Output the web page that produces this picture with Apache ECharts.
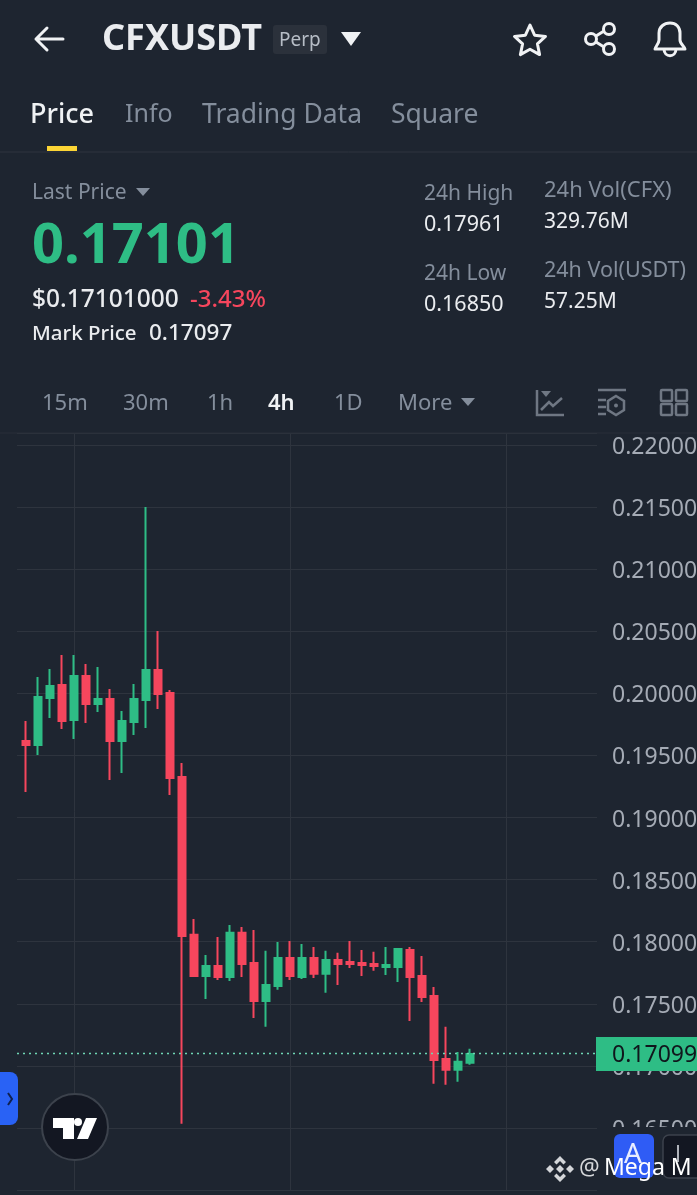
<!DOCTYPE html>
<html><head><meta charset="utf-8">
<style>html,body{margin:0;padding:0;background:#1e2530}#c{width:697px;height:1195px}</style>
<script src="https://cdn.jsdelivr.net/npm/echarts@6/dist/echarts.min.js"></script>
</head><body><div id="c"></div>
<script>
const opens=[.19617,.19584,.19963,.20068,.19786,.20140,.19915,.19955,.19617,.19770,.19947,.20188,.20003,.19327,.18055,.17724,.17805,.17716,.18071,.17829,.17523,.17644,.17869,.17716,.17869,.17741,.17853,.17837,.17829,.17821,.17797,.17797,.17934,.17724,.17563,.17056,.16968,.17024];
const closes=[.19584,.19971,.20059,.19778,.20140,.19915,.19955,.19617,.19778,.19955,.20188,.19995,.19319,.18046,.17724,.17805,.17716,.18071,.17821,.17523,.17652,.17869,.17724,.17869,.17741,.17853,.17821,.17821,.17813,.17805,.17813,.17942,.17716,.17555,.17048,.16968,.17032,.17096];
const lows=[.19206,.19504,.19802,.19713,.19633,.19762,.19850,.19303,.19359,.19665,.19721,.19874,.19182,.16533,.17716,.17539,.17692,.17684,.17716,.17386,.17314,.17612,.17692,.17700,.17708,.17588,.17652,.17789,.17724,.17765,.17732,.17676,.17362,.17515,.16855,.16847,.16871,.17008];
const highs=[.19778,.20132,.20196,.20309,.20309,.20237,.20212,.20035,.19858,.20076,.21501,.20502,.20027,.19440,.18183,.17893,.18038,.18135,.18119,.18095,.17926,.17998,.18006,.17982,.17958,.17926,.17910,.18006,.17934,.17918,.17958,.17942,.17958,.17885,.17636,.17314,.17112,.17137];
const lastPrice=0.17099;
const timeGridIndex=[4,22,40];
const xMin=-0.75,xMax=47.583;
const periods=['15m','30m','1h','4h','1D','More'];
const tabs=['Price','Info','Trading Data','Square'];

const BG='#1e2530',UP='#2ebd85',DOWN='#f6465d',GRID='#2e343e',GREY='#848e9c',LIGHT='#eaecef';
const FONT='"Noto Sans",sans-serif';
const t=(x,y,text,size,fill,weight,fam)=>({type:'text',z:50,silent:true,style:{x,y:y+3,text,fill,font:`${weight||400} ${size}px ${fam||FONT}`,textVerticalAlign:'middle',textAlign:'left'}});
let pid=0;
const p=(d,o)=>{const name='ico'+(pid++);echarts.graphic.registerShape(name,echarts.graphic.extendPath(d,{}));
  return {type:name,z:50,silent:true,style:Object.assign({fill:null,stroke:null},o)};};
const rect=(x,y,w,h,fill,r,extra)=>({type:'rect',z:40,silent:true,shape:{x,y,width:w,height:h,r:r||0},style:Object.assign({fill},extra||{})});
const line=(x1,y1,x2,y2,c,w)=>({type:'line',z:45,silent:true,shape:{x1,y1,x2,y2},style:{stroke:c,lineWidth:w||1}});
const tri=(x1,x2,y1,y2,c)=>({type:'polygon',z:50,silent:true,shape:{points:[[x1,y1],[x2,y1],[(x1+x2)/2,y2]]},style:{fill:c}});
const W='#f0f2f4',IC='#6f7783';
const tabX=[30,125,202,391],perX=[42,123,207,268,334,398];
const tabSize=[27,25,26.5,26.5];
const graphics=[
 p('M63 39H36M47 28L36 39L47 50',{stroke:W,lineWidth:3,lineCap:'round',lineJoin:'round'}),
 t(102,37,'CFXUSDT',36,LIGHT,700),
 rect(273,25,54,29,'#2b313b',3),
 t(279,38,'Perp',19,'#b7bdc6'),
 {type:'polygon',z:50,silent:true,shape:{points:[[341,32],[361,32],[351,46]]},style:{fill:W}},
 p('M530 25L534.6 35.2L545.5 36.4L537.4 43.8L539.6 54.6L530 49.2L520.4 54.6L522.6 43.8L514.5 36.4L525.4 35.2Z',{stroke:W,lineWidth:3,lineJoin:'round'}),
 p('M596 36L604 31M596 42L604 47',{stroke:W,lineWidth:3}),
 {type:'circle',z:50,silent:true,shape:{cx:591,cy:39,r:5.5},style:{fill:null,stroke:W,lineWidth:3}},
 {type:'circle',z:50,silent:true,shape:{cx:609,cy:29,r:5.5},style:{fill:null,stroke:W,lineWidth:3}},
 {type:'circle',z:50,silent:true,shape:{cx:609,cy:49,r:5.5},style:{fill:null,stroke:W,lineWidth:3}},
 p('M655 49C655 47 659 44 659 40V33C659 27 664 23 670 23C676 23 680 27 680 33V40C680 44 685 47 685 49Z M664 49C664 58 676 58 676 49',{stroke:W,lineWidth:3,lineJoin:'round'}),
 ...tabs.map((s,i)=>t(tabX[i],112,s,tabSize[i],i===0?W:GREY,i===0?500:400)),
 rect(47,146,30,5,'#fcd535'),
 line(0,152,697,152,GRID,1),
 t(32,190,'Last Price',21,GREY),
 tri(136,150,188,196,GREY),
 t(32,244,'0.17101',56,UP,700),
 t(32,297,'$0.17101000',24.5,LIGHT,500),
 t(190,297,'-3.43%',24,DOWN,500),
 t(32,331,'Mark Price',20.5,LIGHT,500),
 t(149,331,'0.17097',22.5,LIGHT,500),
 t(424,191,'24h High',21,GREY),
 t(424,222,'0.17961',21.5,LIGHT),
 t(424,271,'24h Low',21,GREY),
 t(424,302,'0.16850',21.5,LIGHT),
 t(544,188,'24h Vol(CFX)',22,GREY),
 t(544,219,'329.76M',21,LIGHT),
 t(544,268,'24h Vol(USDT)',21.5,GREY),
 t(544,299,'57.25M',21,LIGHT),
 ...periods.map((s,i)=>t(perX[i],401,s,22,i===3?W:GREY,i===3?600:400)),
 tri(461,475,398,406,GREY),
 p('M537 390V415H564M541 410L549 402L553 406L562 398',{stroke:IC,lineWidth:2.5}),
 tri(541,551,391,397,IC),
 p('M598 390H626M598 400H606M598 407H606M598 414H606M616 396L624 401V410L616 415L608 410V401Z',{stroke:IC,lineWidth:2.5}),
 {type:'circle',z:50,silent:true,shape:{cx:616,cy:405.5,r:2},style:{fill:IC}},
 rect(661,390,11,11,'none',1,{stroke:IC,lineWidth:2.5}),rect(676,390,11,11,'none',1,{stroke:IC,lineWidth:2.5}),
 rect(661,404,11,11,'none',1,{stroke:IC,lineWidth:2.5}),rect(676,404,11,11,'none',1,{stroke:IC,lineWidth:2.5}),
 line(0,433,697,433,'#282e38',1),
 rect(597,1127,100,68,BG),
 rect(596,1037,101,34,UP),
 t(612,1052,lastPrice.toFixed(5),23,'#10161c'),
 rect(0,1072,18,53,'#2962f5',[0,8,8,0]),
 p('M8 1093L12 1099L8 1105',{stroke:'#10214f',lineWidth:2}),
 {type:'circle',z:50,silent:true,shape:{cx:75,cy:1127,r:33},style:{fill:'#131722',stroke:'#3c424c',lineWidth:2}},
 Object.assign(p('M53 1118H74V1139H63V1128H53Z M86 1118H97L88 1139H77Z',{fill:'#fff'}),{z:51}),
 {type:'circle',z:51,silent:true,shape:{cx:78,cy:1122,r:4},style:{fill:'#fff'}},
 rect(614,1134,40,44,'#2f5cf5',6),
 t(624,1152,'A',28,'#e8edff'),
 rect(663,1135,40,43,'#131722',6,{stroke:'#3c424c',lineWidth:1.5}),
 line(678,1145,678,1162,'#b0b4bb',2),
 p('M560 1156L566 1162L563.5 1164.5L560 1161L556.5 1164.5L554 1162Z M560 1182L566 1176L563.5 1173.5L560 1177L556.5 1173.5L554 1176Z M560 1165L564 1169L560 1173L556 1169Z M550 1165L554 1169L550 1173L546 1169Z M570 1165L574 1169L570 1173L566 1169Z',{fill:'#d4d6d9'}),
 t(579,1165,'@',23,'#d4d6d9'),
 t(604,1165,'Mega M',23,'#ffffff'),
];
const chart=echarts.init(document.getElementById('c'),null,{renderer:'canvas'});
chart.setOption({
 animation:false,backgroundColor:BG,
 grid:{left:17,top:433,width:580,height:757,containLabel:false,outerBoundsMode:'none'},
 xAxis:{type:'value',min:xMin,max:xMax,axisLine:{show:false},axisLabel:{show:false},
   axisTick:{show:false,customValues:timeGridIndex},splitLine:{show:true,lineStyle:{color:GRID,width:1}}},
 yAxis:{type:'value',position:'right',min:0.16,max:0.22097,interval:0.005,axisLine:{show:false},axisTick:{show:false},
   splitLine:{lineStyle:{color:GRID,width:1}},
   axisLabel:{margin:15,formatter:v=>'{a|'+v.toFixed(5)+'}',showMaxLabel:false,showMinLabel:false,
     rich:{a:{color:'#a5abb5',fontSize:23,fontFamily:FONT,padding:[5,0,0,0]}}}},
 series:[{type:'candlestick',barWidth:8,encode:{x:0,y:[1,2,3,4]},
   data:opens.map((o,i)=>[i,o,closes[i],lows[i],highs[i]]),
   itemStyle:{color:UP,color0:DOWN,borderColor:UP,borderColor0:DOWN,borderWidth:2}
 },{type:'line',symbol:'none',silent:true,data:[[xMin,lastPrice],[xMax,lastPrice]],
   lineStyle:{color:'#6fd6b4',type:[2,4],width:1.5}
 }],
 graphic:graphics
});
</script></body></html>
